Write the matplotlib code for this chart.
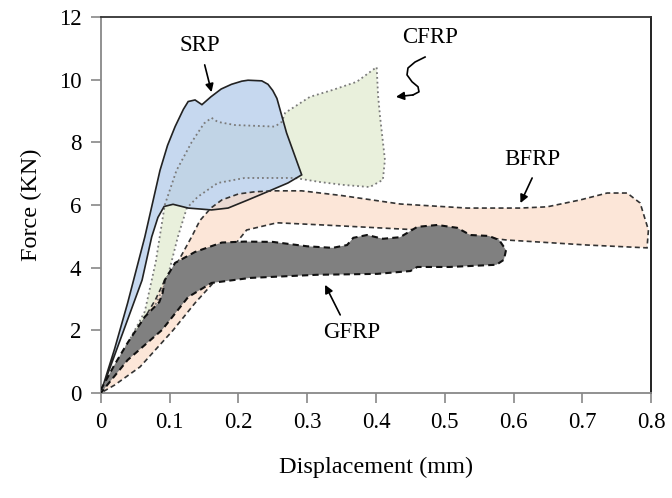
import matplotlib.pyplot as plt
from matplotlib.patches import Polygon

plt.rcParams['font.family'] = ['Liberation Serif', 'DejaVu Serif']

# envelope outlines (displacement mm, force kN), traced clockwise from origin
srp_x = [0, 0.02, 0.039, 0.064, 0.086, 0.097, 0.108, 0.12, 0.127, 0.137, 0.147, 0.16, 0.175, 0.19,
         0.205, 0.214, 0.234, 0.243, 0.25, 0.256, 0.27, 0.292, 0.272, 0.24, 0.214, 0.185, 0.161,
         0.127, 0.105, 0.092, 0.083, 0.074, 0.06, 0.03, 0]
srp_y = [0, 1.4, 2.87, 4.98, 7.1, 7.9, 8.5, 9.05, 9.3, 9.35, 9.2, 9.45, 9.7, 9.85,
         9.95, 9.98, 9.96, 9.85, 9.65, 9.4, 8.3, 6.96, 6.7, 6.4, 6.16, 5.9, 5.84,
         5.9, 6.02, 5.95, 5.6, 4.98, 3.6, 1.8, 0]

cfrp_x = [0, 0.03, 0.064, 0.08, 0.093, 0.11, 0.132, 0.15, 0.161, 0.17, 0.195, 0.253, 0.263,
          0.268, 0.304, 0.337, 0.372, 0.401, 0.403, 0.406, 0.413, 0.41, 0.391, 0.352, 0.319,
          0.282, 0.209, 0.17, 0.141, 0.125, 0.112, 0.096, 0.075, 0.04, 0]
cfrp_y = [0, 1.2, 2.6, 4.2, 6.0, 7.1, 8.0, 8.6, 8.78, 8.65, 8.55, 8.5, 8.65,
          8.94, 9.45, 9.67, 9.93, 10.4, 9.5, 8.8, 7.44, 6.8, 6.57, 6.64, 6.73,
          6.86, 6.86, 6.7, 6.26, 5.9, 4.98, 3.6, 2.6, 1.2, 0]

bfrp_x = [0, 0.035, 0.068, 0.08, 0.093, 0.108, 0.132, 0.144, 0.16, 0.176, 0.2, 0.224, 0.252,
          0.292, 0.35, 0.435, 0.532, 0.61, 0.649, 0.697, 0.736, 0.765, 0.784, 0.796, 0.794,
          0.707, 0.59, 0.464, 0.323, 0.256, 0.212, 0.19, 0.163, 0.137, 0.105, 0.057, 0.02, 0]
bfrp_y = [0, 1.2, 2.55, 3.0, 3.6, 4.02, 4.98, 5.5, 5.9, 6.16, 6.35, 6.42, 6.45,
          6.45, 6.3, 6.03, 5.9, 5.9, 5.94, 6.16, 6.38, 6.38, 6.06, 5.2, 4.63,
          4.72, 4.88, 5.2, 5.36, 5.43, 5.2, 4.6, 3.5, 2.87, 2.0, 0.83, 0.25, 0]

gfrp_x = [0, 0.02, 0.039, 0.064, 0.085, 0.09, 0.093, 0.108, 0.137, 0.176, 0.209, 0.25, 0.3,
          0.337, 0.358, 0.367, 0.387, 0.41, 0.435, 0.46, 0.489, 0.518, 0.537, 0.564, 0.579,
          0.589, 0.586, 0.575, 0.507, 0.46, 0.45, 0.402, 0.314, 0.217, 0.161, 0.127, 0.089,
          0.039, 0]
gfrp_y = [0.1, 0.9, 1.6, 2.43, 2.9, 3.2, 3.6, 4.15, 4.5, 4.8, 4.83, 4.82, 4.68,
          4.63, 4.72, 4.95, 5.04, 4.92, 4.97, 5.3, 5.36, 5.27, 5.04, 5.01, 4.88,
          4.56, 4.25, 4.09, 4.02, 4.02, 3.89, 3.8, 3.77, 3.67, 3.51, 3.06, 2.01,
          1.05, 0]

# wavy CFRP pointer
cfrp_wave_x = [0.4713, 0.4567, 0.4465, 0.4451, 0.4524, 0.4611, 0.4625, 0.4538]
cfrp_wave_y = [10.72, 10.56, 10.37, 10.15, 9.93, 9.77, 9.61, 9.51]

fig = plt.figure(figsize=(6.72, 4.98), dpi=100)
ax = fig.add_axes([0.150, 0.211, 0.819, 0.755])

ax.add_patch(Polygon(list(zip(cfrp_x, cfrp_y)), closed=True, facecolor='#e9f0dc', edgecolor='none', zorder=1))
ax.add_patch(Polygon(list(zip(srp_x, srp_y)), closed=True, facecolor='#b4cbea', alpha=0.75, edgecolor='none', zorder=2))
ax.add_patch(Polygon(list(zip(bfrp_x, bfrp_y)), closed=True, facecolor='#fbdcc8', alpha=0.7, edgecolor='none', zorder=3))

ax.add_patch(Polygon(list(zip(cfrp_x, cfrp_y)), closed=True, fill=False, edgecolor='#7a7a7a', lw=1.3, ls=':', zorder=4))
ax.add_patch(Polygon(list(zip(srp_x, srp_y)), closed=True, fill=False, edgecolor='#222222', lw=1.2, zorder=4))
ax.add_patch(Polygon(list(zip(bfrp_x, bfrp_y)), closed=True, fill=False, edgecolor='#333333', lw=1.2,
                     ls=(0, (3, 2)), zorder=4))
ax.add_patch(Polygon(list(zip(gfrp_x, gfrp_y)), closed=True, facecolor='#808080', edgecolor='#111111', lw=1.5,
                     ls=(0, (3, 2)), zorder=5))

arrow = dict(arrowstyle='-|>', color='black', lw=1.2, mutation_scale=12, shrinkA=0, shrinkB=0)
ax.text(0.144, 11.1, 'SRP', ha='center', va='center', fontsize=16.5)
ax.annotate('', xy=(0.161, 9.6), xytext=(0.151, 10.47), arrowprops=arrow, zorder=6)
ax.text(0.479, 11.33, 'CFRP', ha='center', va='center', fontsize=16.5)
ax.plot(cfrp_wave_x, cfrp_wave_y, color='black', lw=1.2, zorder=6)
ax.annotate('', xy=(0.429, 9.45), xytext=(0.4538, 9.51), arrowprops=arrow, zorder=6)
ax.text(0.628, 7.44, 'BFRP', ha='center', va='center', fontsize=16.5)
ax.annotate('', xy=(0.61, 6.06), xytext=(0.627, 6.86), arrowprops=arrow, zorder=6)
ax.text(0.365, 1.92, 'GFRP', ha='center', va='center', fontsize=16.5)
ax.annotate('', xy=(0.326, 3.45), xytext=(0.348, 2.49), arrowprops=arrow, zorder=6)

ax.set_xlim(0, 0.8)
ax.set_ylim(0, 12)
ax.set_xticks([0, 0.1, 0.2, 0.3, 0.4, 0.5, 0.6, 0.7, 0.8])
ax.set_xticklabels(['0', '0.1', '0.2', '0.3', '0.4', '0.5', '0.6', '0.7', '0.8'])
ax.set_yticks(range(0, 13, 2))
ax.tick_params(labelsize=16.5, length=7, color='#888888', width=1.2, pad=7)
ax.spines['left'].set_color('#888888')
ax.spines['bottom'].set_color('#888888')
ax.spines['top'].set_color('#333333')
ax.spines['right'].set_color('#111111')
for s in ax.spines.values():
    s.set_linewidth(1.3)

ax.set_xlabel('Displacement (mm)', fontsize=17.5, labelpad=17)
ax.set_ylabel('Force (KN)', fontsize=17.5, labelpad=12)

fig.savefig('out.png', dpi=100)
